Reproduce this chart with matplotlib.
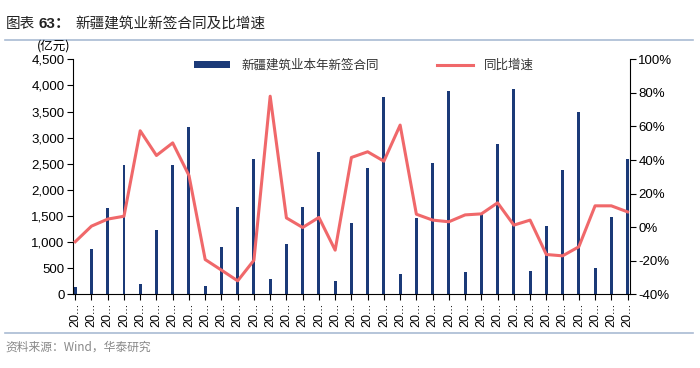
import matplotlib
matplotlib.use("Agg")
import matplotlib.pyplot as plt
from matplotlib.lines import Line2D
from matplotlib.patches import Patch
import numpy as np

plt.rcParams['font.family'] = ['Liberation Sans', 'Noto Sans CJK SC', 'DejaVu Sans']

tick_labels = ["20..."] * 35
contracts = [134, 862, 1659, 2471, 197, 1232, 2483, 3211, 159, 906, 1678, 2586,
             287, 964, 1667, 2726, 255, 1360, 2414, 3785, 395, 1467, 2515, 3900,
             427, 1552, 2879, 3939, 446, 1308, 2381, 3492, 498, 1475, 2598]
growth = [-8.7, 0.6, 4.8, 6.5, 57.4, 42.7, 50.2, 30.8, -19.3, -25.6, -32.0, -19.7,
          78.0, 5.5, -0.2, 5.8, -13.7, 41.5, 44.9, 39.3, 60.8, 7.7, 4.2, 3.2,
          7.3, 7.9, 14.5, 1.2, 4.2, -16.3, -17.1, -11.7, 12.7, 12.7, 9.1]

bar_color = "#1B3A78"
line_color = "#F0686A"
cjk = ['Noto Sans CJK SC', 'DejaVu Sans']

fig = plt.figure(figsize=(7.0, 3.68), dpi=100)
ax = fig.add_axes([0.104, 0.2003, 0.796, 0.6386])
x = np.arange(len(contracts))
ax.bar(x, contracts, width=0.18, color=bar_color, zorder=2)
ax.set_xlim(-0.15, len(contracts) - 1 + 0.15)
ax.set_ylim(0, 4500)
ax.set_yticks(np.arange(0, 4501, 500))
ax.set_yticklabels([f"{v:,}" for v in range(0, 4501, 500)], fontsize=9.5)
ax.set_xticks(x)
ax.set_xticklabels(tick_labels, rotation=90, fontsize=9)
for s in ['top', 'right']:
    ax.spines[s].set_visible(False)
for s in ['left', 'bottom']:
    ax.spines[s].set_color('black')
    ax.spines[s].set_linewidth(0.8)
ax.tick_params(axis='both', direction='out', length=4, width=0.8, pad=2)

ax2 = ax.twinx()
ax2.plot(x, growth, color=line_color, linewidth=2.2, zorder=3)
ax2.set_ylim(-40, 100)
ax2.set_yticks(np.arange(-40, 101, 20))
ax2.set_yticklabels([f"{v}%" for v in range(-40, 101, 20)], fontsize=9.5)
for s in ['top', 'left', 'bottom']:
    ax2.spines[s].set_visible(False)
ax2.spines['right'].set_color('black')
ax2.spines['right'].set_linewidth(0.8)
ax2.tick_params(axis='y', direction='out', length=4, width=0.8, pad=2)

fig.text(0.052, 0.857, "(亿元)", fontsize=9, family=cjk, ha='left', va='bottom')

handles = [Patch(facecolor=bar_color, edgecolor='none'),
           Line2D([0], [0], color=line_color, linewidth=2.2)]
leg = fig.legend(handles, ["新疆建筑业本年新签合同", "同比增速"], loc='center',
                 bbox_to_anchor=(0.52, 0.822), ncol=2, frameon=False,
                 prop={'family': cjk, 'size': 9}, handlelength=2.9,
                 handleheight=0.5, columnspacing=4.6, handletextpad=0.9)
for t in leg.get_texts():
    t.set_color('#333333')

fig.text(0.008, 0.935, "图表", fontsize=10.5, family=cjk, ha='left', va='center', color='#222222')
fig.text(0.055, 0.935, "63：", fontsize=11, fontweight='bold', family=['Liberation Sans', 'Noto Sans CJK SC'],
         ha='left', va='center', color='#222222')
fig.text(0.108, 0.935, "新疆建筑业新签合同及比增速", fontsize=10.5, family=cjk, ha='left',
         va='center', color='#222222')
fig.add_artist(Line2D([0.007, 0.99], [0.892, 0.892], color='#A9BBD3', linewidth=1.2,
                      transform=fig.transFigure))
fig.add_artist(Line2D([0.007, 0.99], [0.095, 0.095], color='#A9BBD3', linewidth=1.2,
                      transform=fig.transFigure))
fig.text(0.008, 0.058, "资料来源：Wind，华泰研究", fontsize=8.5, family=cjk, ha='left',
         va='center', color='#888888')

fig.savefig("out.png", dpi=100)
